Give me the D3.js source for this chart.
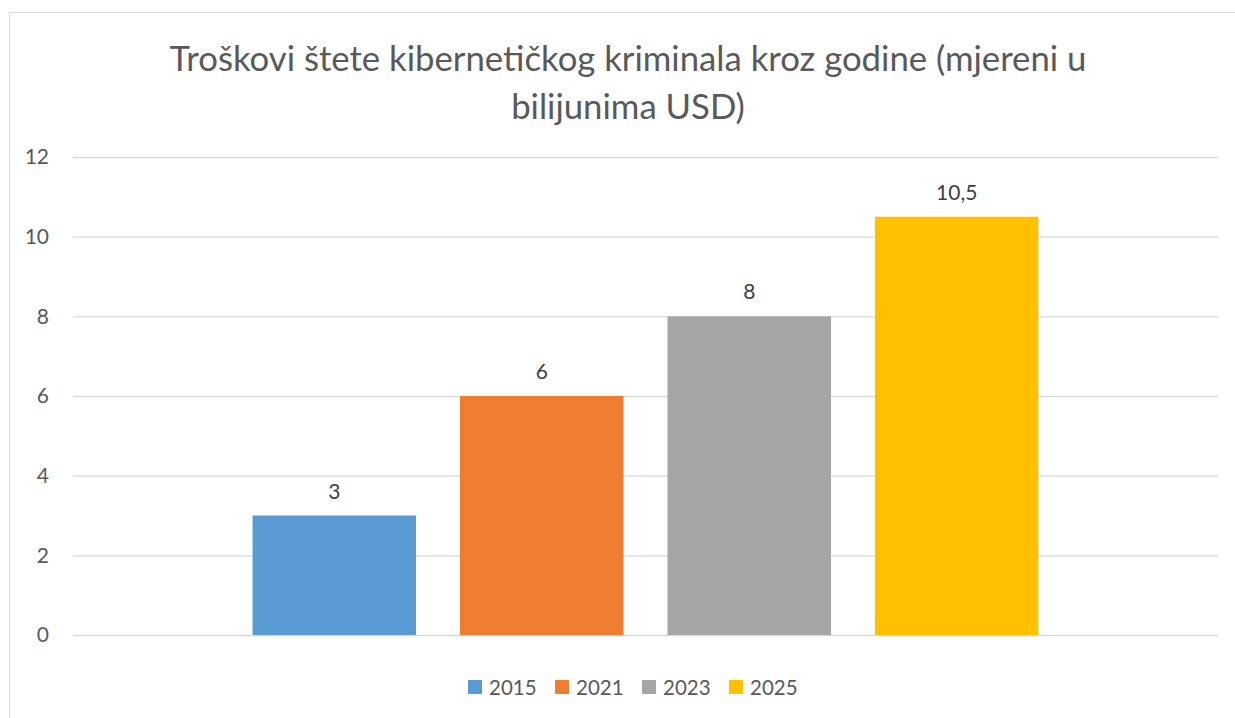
<!DOCTYPE html>
<html>
<head>
<meta charset="utf-8">
<script src="https://cdn.jsdelivr.net/npm/d3@7"></script>
<style>
  body { margin: 0; background: #fff; }
  svg { display: block; font-family: Lato, "Open Sans", sans-serif; }
</style>
</head>
<body>
<svg id="chart" width="1235" height="718"></svg>
<script>
// podaci
const categories = [''];
const years = ['2015', '2021', '2023', '2025'];
const values = [3, 6, 8, 10.5];
const labels = ['3', '6', '8', '10,5'];
const yTicks = [0, 2, 4, 6, 8, 10, 12];
const colors = ['#5b9bd5', '#ed7d31', '#a5a5a5', '#ffc000'];
const titleLines = ['Troškovi štete kibernetičkog kriminala kroz godine (mjereni u', 'bilijunima USD)'];

const width = 1235;
const height = 718;
const margin = {top: 157, right: 17, bottom: 83, left: 73};

const svg = d3.select('#chart');

// okvir grafikona
svg.append('rect')
  .attr('x', 9.5)
  .attr('y', 12.5)
  .attr('width', width + 20)
  .attr('height', height + 20)
  .attr('fill', '#fff')
  .attr('stroke', '#d9d9d9');

const y = d3.scaleLinear()
  .domain([0, 12])
  .range([height - margin.bottom, margin.top]);

const x0 = d3.scaleBand()
  .domain(categories)
  .range([margin.left, width - margin.right])
  .paddingInner(0)
  .paddingOuter(0.2285);

const x1 = d3.scaleBand()
  .domain(years)
  .range([0, x0.bandwidth()])
  .paddingInner(0.212)
  .paddingOuter(0);

// mreža i oznake osi
const yAxis = g => g
  .attr('transform', `translate(${margin.left},0)`)
  .call(d3.axisLeft(y)
    .tickValues(yTicks)
    .tickSize(-(width - margin.left - margin.right))
    .tickPadding(24)
    .tickFormat(d3.format('d')))
  .call(g => g.select('.domain').remove())
  .call(g => g.selectAll('.tick line')
    .attr('stroke', '#d9d9d9')
    .attr('stroke-width', 1.3))
  .call(g => g.selectAll('.tick text')
    .attr('fill', '#595959')
    .attr('font-size', 21)
    .attr('font-family', 'Lato, sans-serif'));

svg.append('g').call(yAxis);

// stupci
const group = svg.append('g')
  .selectAll('g')
  .data(categories)
  .join('g')
  .attr('transform', d => `translate(${x0(d)},0)`);

group.selectAll('rect')
  .data(years.map((yr, i) => ({yr, v: values[i], label: labels[i], color: colors[i]})))
  .join('rect')
  .attr('x', d => x1(d.yr))
  .attr('y', d => y(d.v))
  .attr('width', x1.bandwidth())
  .attr('height', d => y(0) - y(d.v))
  .attr('fill', d => d.color);

group.selectAll('text.lbl')
  .data(years.map((yr, i) => ({yr, v: values[i], label: labels[i]})))
  .join('text')
  .attr('class', 'lbl')
  .attr('x', d => x1(d.yr) + x1.bandwidth() / 2)
  .attr('y', d => y(d.v) - 17)
  .attr('text-anchor', 'middle')
  .attr('font-size', 21)
  .attr('fill', '#404040')
  .text(d => d.label);

// naslov
const title = svg.append('text')
  .attr('text-anchor', 'middle')
  .attr('fill', '#595959')
  .attr('font-size', 33);

title.selectAll('tspan')
  .data(titleLines)
  .join('tspan')
  .attr('x', 628)
  .attr('y', (d, i) => 71 + i * 48)
  .text(d => d);

// veličina naslova prema širini prvog retka u izvorniku
const w = title.select('tspan').node().getComputedTextLength();
title.attr('font-size', 33 * 917 / w);

// legenda
const legendStep = 87;
const legendStart = 468;
const legend = svg.append('g')
  .selectAll('g')
  .data(years)
  .join('g')
  .attr('transform', (d, i) => `translate(${legendStart + i * legendStep},680)`);

legend.append('rect')
  .attr('width', 14)
  .attr('height', 14)
  .attr('fill', (d, i) => colors[i]);

legend.append('text')
  .attr('x', 21)
  .attr('y', 14.5)
  .attr('font-size', 20.5)
  .attr('fill', '#595959')
  .text(d => d);
</script>
</body>
</html>
